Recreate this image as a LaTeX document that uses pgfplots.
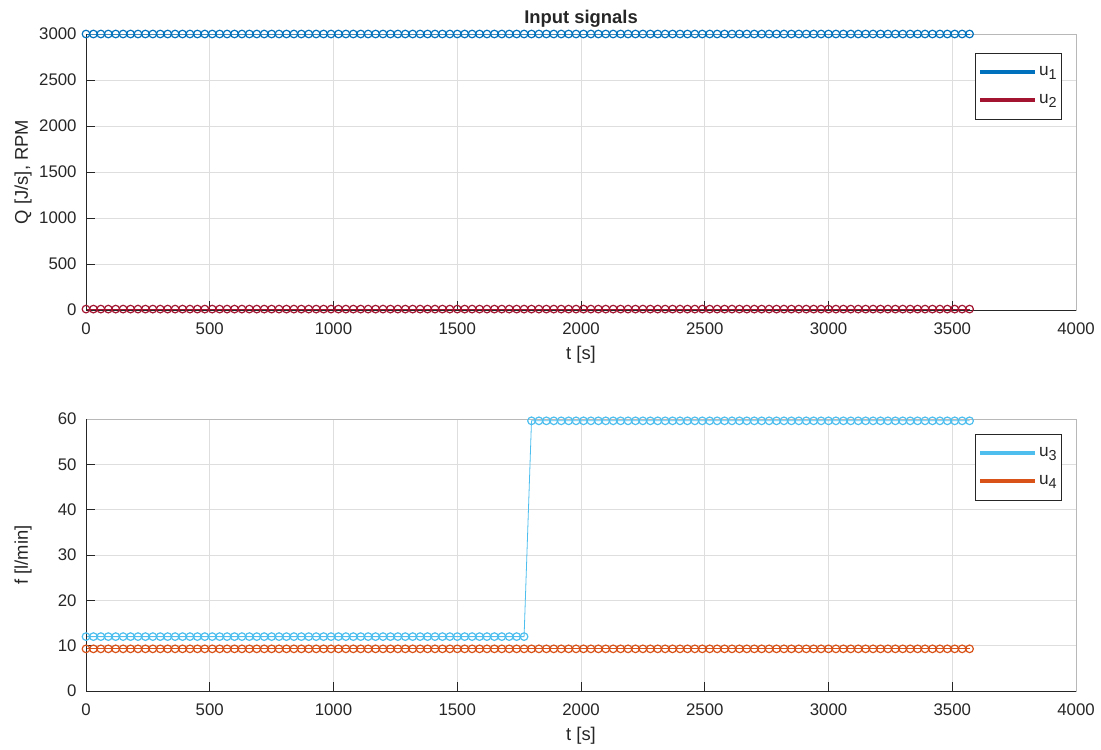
\documentclass[border=0pt]{standalone}
\usepackage{fontspec}
\setmainfont{Liberation Sans}
\usepackage{pgfplots}
\usepackage{pgfplotstable}
\pgfplotsset{compat=1.18}

\definecolor{mlblue}{rgb}{0,0.447,0.741}
\definecolor{mlred}{rgb}{0.635,0.078,0.184}
\definecolor{mlcyan}{rgb}{0.301,0.745,0.933}
\definecolor{mlorange}{rgb}{0.85,0.325,0.098}
\definecolor{axgray}{gray}{0.15}
\definecolor{boxgray}{gray}{0.72}
\definecolor{gridgray}{gray}{0.87}

% legend subscript, set a little larger and lower than \textsubscript
\newcommand{\sub}[1]{\raisebox{-0.45ex}{\fontsize{7.2}{8}\selectfont #1}}

% sampled input signals, one row every 30 s
\pgfplotstableread[row sep=\\]{
t u1 u2 u3 u4 \\
0 3000 10 12 9.3 \\ 30 3000 10 12 9.3 \\ 60 3000 10 12 9.3 \\ 90 3000 10 12 9.3 \\ 120 3000 10 12 9.3 \\ 150 3000 10 12 9.3 \\
180 3000 10 12 9.3 \\ 210 3000 10 12 9.3 \\ 240 3000 10 12 9.3 \\ 270 3000 10 12 9.3 \\ 300 3000 10 12 9.3 \\ 330 3000 10 12 9.3 \\
360 3000 10 12 9.3 \\ 390 3000 10 12 9.3 \\ 420 3000 10 12 9.3 \\ 450 3000 10 12 9.3 \\ 480 3000 10 12 9.3 \\ 510 3000 10 12 9.3 \\
540 3000 10 12 9.3 \\ 570 3000 10 12 9.3 \\ 600 3000 10 12 9.3 \\ 630 3000 10 12 9.3 \\ 660 3000 10 12 9.3 \\ 690 3000 10 12 9.3 \\
720 3000 10 12 9.3 \\ 750 3000 10 12 9.3 \\ 780 3000 10 12 9.3 \\ 810 3000 10 12 9.3 \\ 840 3000 10 12 9.3 \\ 870 3000 10 12 9.3 \\
900 3000 10 12 9.3 \\ 930 3000 10 12 9.3 \\ 960 3000 10 12 9.3 \\ 990 3000 10 12 9.3 \\ 1020 3000 10 12 9.3 \\ 1050 3000 10 12 9.3 \\
1080 3000 10 12 9.3 \\ 1110 3000 10 12 9.3 \\ 1140 3000 10 12 9.3 \\ 1170 3000 10 12 9.3 \\ 1200 3000 10 12 9.3 \\ 1230 3000 10 12 9.3 \\
1260 3000 10 12 9.3 \\ 1290 3000 10 12 9.3 \\ 1320 3000 10 12 9.3 \\ 1350 3000 10 12 9.3 \\ 1380 3000 10 12 9.3 \\ 1410 3000 10 12 9.3 \\
1440 3000 10 12 9.3 \\ 1470 3000 10 12 9.3 \\ 1500 3000 10 12 9.3 \\ 1530 3000 10 12 9.3 \\ 1560 3000 10 12 9.3 \\ 1590 3000 10 12 9.3 \\
1620 3000 10 12 9.3 \\ 1650 3000 10 12 9.3 \\ 1680 3000 10 12 9.3 \\ 1710 3000 10 12 9.3 \\ 1740 3000 10 12 9.3 \\ 1770 3000 10 12 9.3 \\
1800 3000 10 59.6 9.3 \\ 1830 3000 10 59.6 9.3 \\ 1860 3000 10 59.6 9.3 \\ 1890 3000 10 59.6 9.3 \\ 1920 3000 10 59.6 9.3 \\ 1950 3000 10 59.6 9.3 \\
1980 3000 10 59.6 9.3 \\ 2010 3000 10 59.6 9.3 \\ 2040 3000 10 59.6 9.3 \\ 2070 3000 10 59.6 9.3 \\ 2100 3000 10 59.6 9.3 \\ 2130 3000 10 59.6 9.3 \\
2160 3000 10 59.6 9.3 \\ 2190 3000 10 59.6 9.3 \\ 2220 3000 10 59.6 9.3 \\ 2250 3000 10 59.6 9.3 \\ 2280 3000 10 59.6 9.3 \\ 2310 3000 10 59.6 9.3 \\
2340 3000 10 59.6 9.3 \\ 2370 3000 10 59.6 9.3 \\ 2400 3000 10 59.6 9.3 \\ 2430 3000 10 59.6 9.3 \\ 2460 3000 10 59.6 9.3 \\ 2490 3000 10 59.6 9.3 \\
2520 3000 10 59.6 9.3 \\ 2550 3000 10 59.6 9.3 \\ 2580 3000 10 59.6 9.3 \\ 2610 3000 10 59.6 9.3 \\ 2640 3000 10 59.6 9.3 \\ 2670 3000 10 59.6 9.3 \\
2700 3000 10 59.6 9.3 \\ 2730 3000 10 59.6 9.3 \\ 2760 3000 10 59.6 9.3 \\ 2790 3000 10 59.6 9.3 \\ 2820 3000 10 59.6 9.3 \\ 2850 3000 10 59.6 9.3 \\
2880 3000 10 59.6 9.3 \\ 2910 3000 10 59.6 9.3 \\ 2940 3000 10 59.6 9.3 \\ 2970 3000 10 59.6 9.3 \\ 3000 3000 10 59.6 9.3 \\ 3030 3000 10 59.6 9.3 \\
3060 3000 10 59.6 9.3 \\ 3090 3000 10 59.6 9.3 \\ 3120 3000 10 59.6 9.3 \\ 3150 3000 10 59.6 9.3 \\ 3180 3000 10 59.6 9.3 \\ 3210 3000 10 59.6 9.3 \\
3240 3000 10 59.6 9.3 \\ 3270 3000 10 59.6 9.3 \\ 3300 3000 10 59.6 9.3 \\ 3330 3000 10 59.6 9.3 \\ 3360 3000 10 59.6 9.3 \\ 3390 3000 10 59.6 9.3 \\
3420 3000 10 59.6 9.3 \\ 3450 3000 10 59.6 9.3 \\ 3480 3000 10 59.6 9.3 \\ 3510 3000 10 59.6 9.3 \\ 3540 3000 10 59.6 9.3 \\ 3570 3000 10 59.6 9.3 \\
}\inputs

\pgfplotsset{
  every axis title shift=0pt,
  mlaxis/.style={
    scale only axis, width=495pt, clip=false,
    xmin=0, xmax=4000, xtick={0,500,...,4000},
    grid=major, major grid style={draw=gridgray, line width=0.3pt},
    tick align=inside, tick pos=left, major tick length=4.7pt,
    tick style={draw=axgray, line width=0.35pt},
    axis line style={draw=boxgray, line width=0.35pt},
    tick label style={font=\fontsize{8.4}{10}\selectfont, text=axgray},
    xticklabel style={anchor=base, yshift=-12pt},
    yticklabel style={xshift=-1.2pt},
    /pgf/number format/assume math mode=true,
    /pgf/number format/1000 sep={},
    scaled ticks=false,
    label style={font=\fontsize{9.2}{11}\selectfont, text=axgray},
    xlabel={t [s]},
    xlabel style={at={(axis description cs:0.5,0)}, anchor=base, yshift=-24.75pt},
    ylabel style={at={(axis description cs:-0.0636,0.5)}, anchor=center},
    legend cell align=left,
    legend style={anchor=north west, draw=axgray, line width=0.4pt, fill=white,
      font=\fontsize{8.6}{10}\selectfont, text=axgray,
      inner xsep=1.5pt, inner ysep=5.5pt, row sep=6.5pt,
      nodes={inner sep=0.8pt}},
    legend image code/.code={\draw[line width=2pt] (0pt,0pt) -- (27.5pt,0pt);},
    every axis plot/.append style={line width=0.4pt, mark=o, mark size=1.9pt,
      mark options={line width=0.6pt}},
  },
}

\begin{document}
\begin{tikzpicture}
\path[use as bounding box] (0,0) rectangle (550.5pt,-374.5pt);

\begin{axis}[mlaxis, at={(43pt,-155pt)}, anchor=south west, height=138pt,
    ymin=0, ymax=3000, ytick={0,500,...,3000},
    ylabel={Q [J/s], RPM},
    title={Input signals},
    title style={at={(0.5,1)}, anchor=base, yshift=5.5pt,
      font=\bfseries\fontsize{9.2}{11}\selectfont, text=axgray},
    legend style={at={(0.898,0.931)}}]
  \addplot[mlblue] table[x=t, y=u1] {\inputs};
  \addplot[mlred] table[x=t, y=u2] {\inputs};
  \legend{u\sub{1}, u\sub{2}}
  \draw[axgray, line width=0.35pt] (rel axis cs:0,1) -- (rel axis cs:0,0) -- (rel axis cs:1,0);
\end{axis}

\begin{axis}[mlaxis, at={(43pt,-345.5pt)}, anchor=south west, height=136pt,
    ymin=0, ymax=60, ytick={0,10,...,60},
    ylabel={f [l/min]},
    legend style={at={(0.898,0.945)}}]
  \addplot[mlcyan] table[x=t, y=u3] {\inputs};
  \addplot[mlorange] table[x=t, y=u4] {\inputs};
  \legend{u\sub{3}, u\sub{4}}
  \draw[axgray, line width=0.35pt] (rel axis cs:0,1) -- (rel axis cs:0,0) -- (rel axis cs:1,0);
\end{axis}
\end{tikzpicture}
\end{document}
